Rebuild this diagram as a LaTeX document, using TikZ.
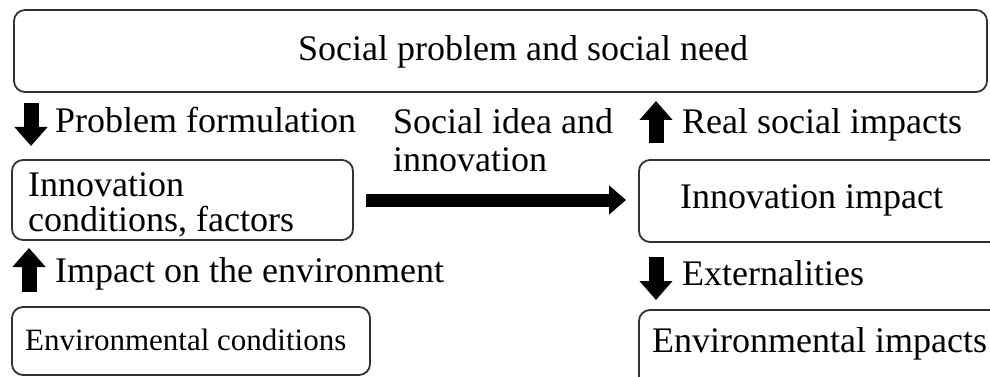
\documentclass[tikz,border=0pt]{standalone}
\usepackage{fontspec}
\setmainfont{Liberation Serif}
\usetikzlibrary{arrows.meta}
\begin{document}
\begin{tikzpicture}[x=1pt,y=-1pt,font=\fontsize{36}{38}\selectfont,
  box/.style={draw=black!80,line width=1.8pt,rounded corners=11pt,inner sep=0pt},
  lbl/.style={anchor=base west,inner sep=0pt},
  blockarrow/.style={line width=15pt,-{Triangle[width=32pt,length=19pt]}},
  bigarrow/.style={line width=13pt,-{Triangle[width=28pt,length=17pt]},shorten <=12pt,shorten >=12pt}]
\useasboundingbox (0,0) rectangle (990,377);
\clip (0,0) rectangle (990,377);
\node[box,minimum width=973pt,minimum height=82pt] (need) at (500.5,51) {};
\node[lbl] (needtxt) at (298,61) {Social problem and social need};
\node[box,minimum width=341pt,minimum height=80pt] (cond) at (182.5,200) {};
\node[anchor=north west,inner sep=0pt,align=left,font=\fontsize{36}{35}\selectfont] (condtxt) at (28,172.4) {Innovation\\conditions, factors};
\node[box,minimum width=381pt,minimum height=82pt] (impact) at (829.5,201) {};
\node[lbl] (impacttxt) at (680,208) {Innovation impact};
\node[box,minimum width=358pt,minimum height=68pt] (envcond) at (191,341) {};
\node[lbl,font=\fontsize{31}{33}\selectfont] (envcondtxt) at (25,350) {Environmental conditions};
\node[box,minimum width=381pt,minimum height=90pt] (envimp) at (829.5,355) {};
\node[lbl] (envimptxt) at (652,352) {Environmental impacts};
\draw[bigarrow] (cond.east) -- (cond.east -| impact.west);
\node[anchor=north west,inner sep=0pt,align=left] (idea) at (393,108.4) {Social idea and\\innovation};
\coordinate (pf1) at (31,103);
\coordinate (pf2) at (31,146);
\draw[blockarrow] (pf1) -- (pf2);
\node[lbl] (pf) at (55,132) {Problem formulation};
\coordinate (rs1) at (656,143);
\coordinate (rs2) at (656,101);
\draw[blockarrow] (rs1) -- (rs2);
\node[lbl] (rs) at (682,133) {Real social impacts};
\coordinate (ie1) at (29,292);
\coordinate (ie2) at (29,248);
\draw[blockarrow] (ie1) -- (ie2);
\node[lbl] (ie) at (55,282) {Impact on the environment};
\coordinate (ex1) at (656,257);
\coordinate (ex2) at (656,300);
\draw[blockarrow] (ex1) -- (ex2);
\node[lbl] (ex) at (682,285) {Externalities};
\end{tikzpicture}
\end{document}
